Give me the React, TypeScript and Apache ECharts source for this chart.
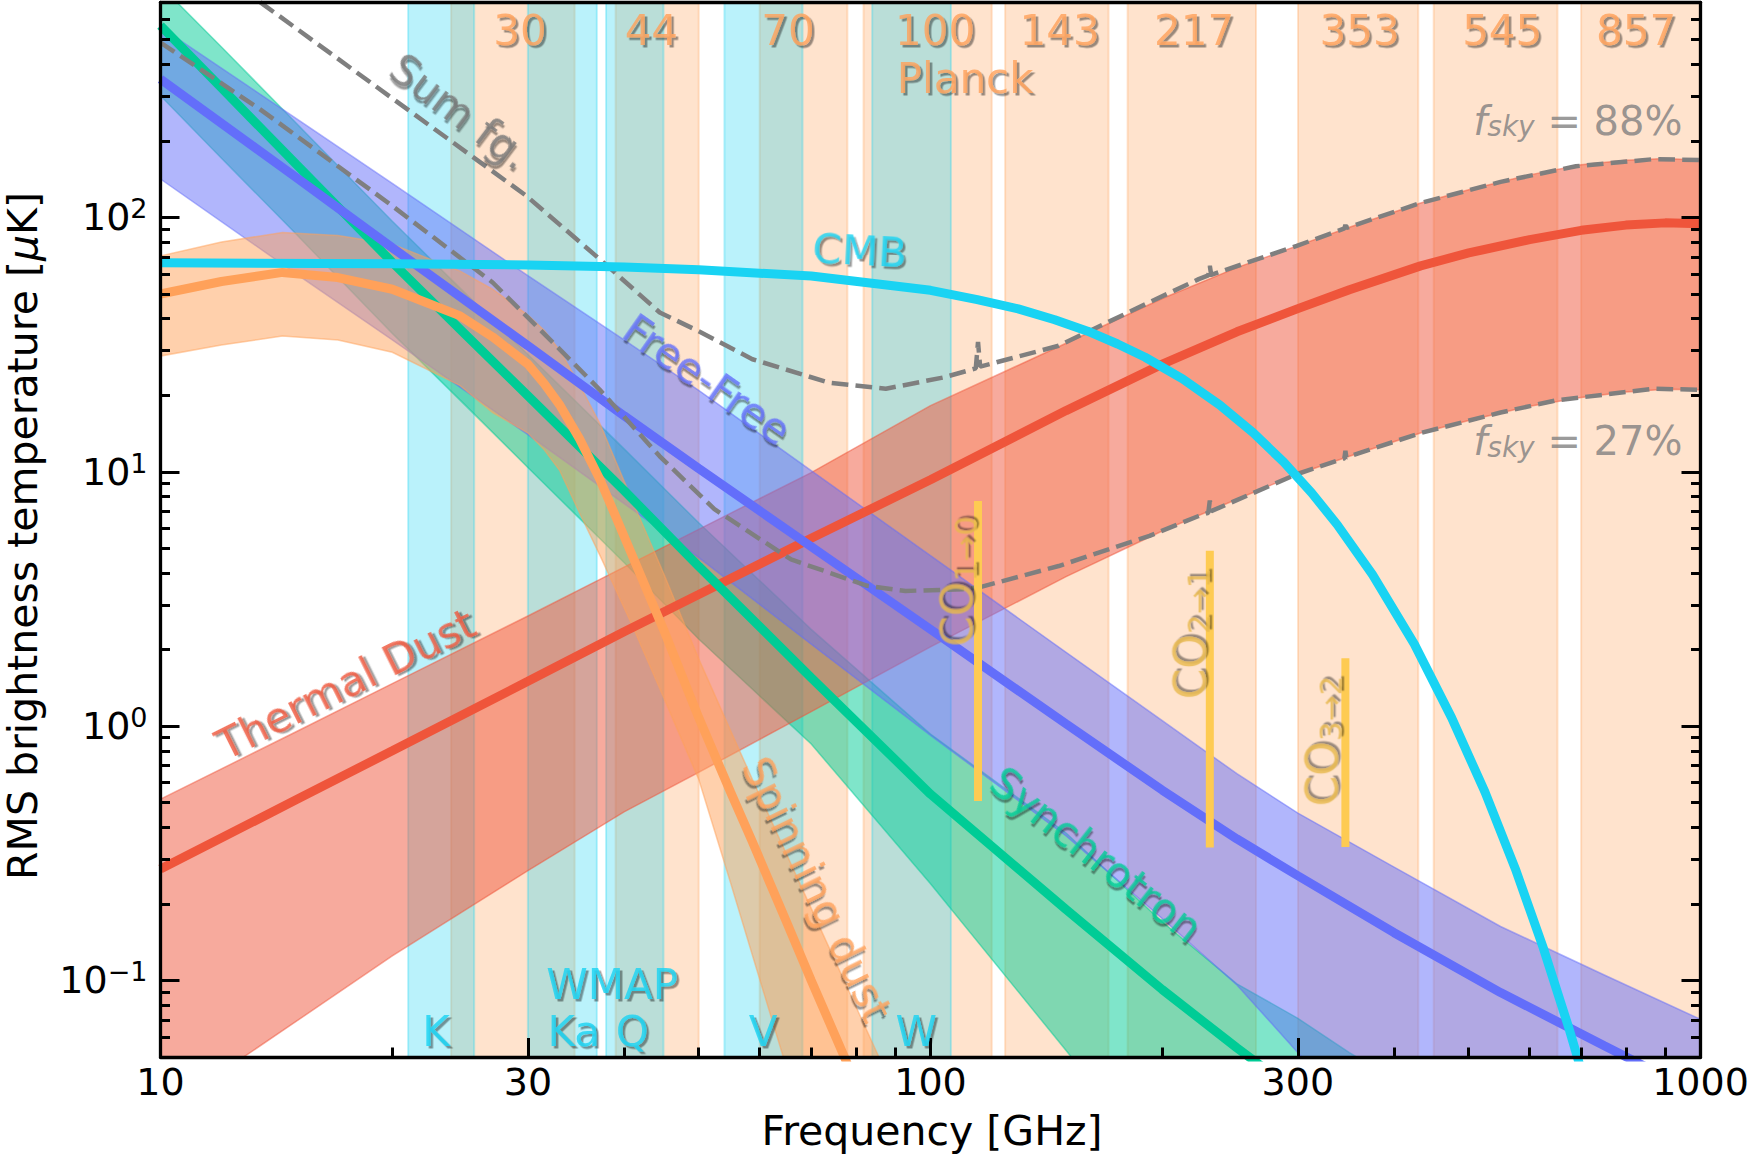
import React, { useEffect, useRef } from "react";
import * as echarts from "echarts";

// ---------------- axes ----------------
const X_MIN = 10;
const X_MAX = 1000;
const Y_MIN = 0.05;
const Y_MAX = 700;
const xMajorTicks = [10, 30, 100, 300, 1000];
const xMinorTicks = [20, 40, 50, 60, 70, 80, 90, 200, 400, 500, 600, 700, 800, 900];
const yMajorTicks = [0.1, 1, 10, 100];
const yMinorTicks = [0.06, 0.07, 0.08, 0.09, 0.2, 0.3, 0.4, 0.5, 0.6, 0.7, 0.8, 0.9, 2, 3, 4, 5, 6, 7, 8, 9, 20, 30, 40, 50, 60, 70, 80, 90, 200, 300, 400, 500, 600];

// ---------------- instrument frequency bands (GHz) ----------------
const planckNames = ["30", "44", "70", "100", "143", "217", "353", "545", "857"];
const planckLow = [23.85, 39.0, 60.0, 81.85, 125, 180.3, 300.1, 450.3, 699.8];
const planckHigh = [34.5, 50.0, 78.0, 120.1, 170.3, 264.7, 430, 652, 1000];
const wmapNames = ["K", "Ka", "Q", "V", "W"];
const wmapLow = [20.97, 30.0, 37.9, 54.0, 84.0];
const wmapHigh = [25.55, 36.87, 45.0, 68.2, 106.3];

// ---------------- components: RMS brightness temperature (uK) ----------------
const syncFreq = [10, 12, 15, 20, 25, 30, 40, 50, 70, 100, 150, 200, 250, 300, 350, 400];
const syncMid = [568, 323, 162, 66.6, 34.2, 19.9, 8.44, 4.25, 1.55, 0.54, 0.19, 0.092, 0.0543, 0.036, 0.0254, 0.019];
const syncHigh = [815, 468, 235, 96.6, 49.6, 28.9, 12.3, 6.3, 2.4, 0.93, 0.38, 0.17, 0.097, 0.071, 0.052, 0.041];
const syncLow = [301, 171, 86, 35, 18, 10.4, 4.4, 2.2, 0.85, 0.24, 0.053, 0.018, 0.0078, 0.0039, 0.0022, 0.0014];

const ffFreq = [10, 15, 20, 30, 40, 50, 70, 100, 150, 200, 250, 300, 400, 550, 750, 1000];
const ffMid = [350, 143.6, 76, 31.3, 16.6, 10.3, 5.08, 2.4, 1.02, 0.56, 0.36, 0.258, 0.154, 0.0896, 0.0554, 0.0355];
const ffHigh = [560, 245, 136, 59, 33, 20.9, 10.1, 4.68, 1.95, 1.05, 0.65, 0.455, 0.279, 0.163, 0.105, 0.0703];
const ffLow = [141.6, 60, 33, 14, 7.5, 4.6, 2.1, 0.92, 0.37, 0.175, 0.096, 0.052, 0.02, 0.008, 0.004, 0.002];

const tdFreq = [10, 15, 20, 30, 40, 50, 70, 100, 150, 200, 250, 300, 350, 433, 500, 600, 700, 800, 900, 1000];
const tdMid = [0.274, 0.513, 0.8, 1.5, 2.35, 3.29, 5.48, 9.3, 17.4, 26.5, 35.5, 43.8, 52, 64.5, 72.5, 81.8, 89, 93.3, 95.2, 94.5];
const tdHigh = [0.516, 0.95, 1.47, 2.71, 4.22, 5.94, 9.93, 18.2, 32, 48, 63.5, 77.5, 91.5, 114, 128.5, 147, 161, 168, 170.5, 168];
const tdLow = [0.03, 0.069, 0.125, 0.27, 0.46, 0.658, 1.14, 2.05, 3.87, 5.85, 7.8, 9.8, 11.5, 14.2, 15.9, 18.1, 19.6, 20.6, 21.1, 21];

const sdFreq = [10, 12, 14.4, 17, 20, 24.5, 27, 30, 31.5, 33, 35, 37.2, 41, 45, 50, 55, 58.7, 65, 70, 77.3, 85.7, 95];
const sdMid = [50, 56, 60.8, 58, 52.2, 41, 33.9, 26.5, 22.2, 18.3, 13.5, 9.35, 4.68, 2.4, 1.08, 0.55, 0.351, 0.17, 0.1, 0.05, 0.024, 0.0116];
const sdHigh = [70.6, 80, 87.3, 85, 78.5, 61.5, 52.2, 41.3, 36, 30, 22, 15.5, 7.7, 4.0, 1.84, 0.96, 0.618, 0.314, 0.192, 0.0993, 0.05, 0.025];
const sdLow = [28.5, 31.5, 34.2, 33, 29.5, 21.8, 17.1, 14.2, 12.2, 10.1, 6.9, 4.7, 2.48, 1.3, 0.618, 0.242, 0.126, 0.0455, 0.022, 0.008, 0.003, 0.001];

const cmbFreq = [10, 20, 30, 40, 50, 70, 100, 115, 130, 145, 160, 175, 190, 212.5, 237.5, 262.5, 287.5, 312.5, 337.5, 375, 425, 475, 525, 575, 625, 675, 725, 775];
const cmbVal = [66.3, 65.8, 65.0, 63.8, 62.3, 58.8, 51.7, 47.5, 43.7, 39.6, 35.7, 31.8, 28.2, 23.2, 18.3, 14.24, 10.92, 8.27, 6.19, 3.94, 2.1, 1.08, 0.55, 0.274, 0.134, 0.0646, 0.0309, 0.0146];

const fg88Freq = [12, 13.58, 20, 29.86, 37.2, 44.5, 50, 58.7, 73.8, 87.5, 104, 114.5, 115.27, 116, 146.7, 192.5, 223, 229.5, 230.54, 231.5, 299, 344.8, 345.8, 346.8, 433, 550, 689, 869, 1000];
const fg88Val = [906, 690, 294, 121.6, 68.5, 42.3, 35.7, 27.7, 22.4, 21.2, 23.5, 25.5, 32.4, 25.9, 31.3, 46.4, 57.2, 59.2, 64.5, 59.5, 77.3, 90.5, 93.5, 90.9, 114, 138, 159, 169.5, 168];
const fg27Freq = [10, 13.45, 20, 27, 33, 37.2, 44.5, 52.4, 65.9, 82.8, 92.8, 110, 114.5, 115.27, 116, 146.7, 192.5, 223, 229.5, 230.54, 231.5, 299, 344.8, 345.8, 346.8, 433, 550, 650, 869, 1000];
const fg27Val = [487, 267, 111, 55.5, 30.3, 21, 11.5, 7.13, 4.52, 3.56, 3.4, 3.45, 3.5, 3.85, 3.52, 4.26, 5.6, 6.7, 6.9, 7.7, 7.0, 9.78, 11.3, 12.1, 11.4, 14.2, 17.1, 19.1, 21.2, 21];

const coFreq = [115.27, 230.54, 345.8];
const coTop = [7.68, 4.89, 1.85];
const coBottom = [0.508, 0.333, 0.335];
const coNames = ["1→0", "2→1", "3→2"];

// ---------------- styling ----------------
const FONT = "DejaVu Sans";
const RGB = { green: "0,204,150", blue: "99,110,250", red: "239,85,59", orange: "255,161,90", cyan: "25,211,243" };
const COL = { green: "#00cc96", blue: "#636efa", red: "#ef553b", orange: "#ffa15a", cyan: "#19d3f3", grey: "#7f7f7f", co: "#fecb52", coText: "#e8b94d", sumText: "#747474" };
const SHADOWED = [COL.orange, COL.cyan, COL.blue, COL.red, COL.green, COL.sumText, COL.coText];

// label anchors (frequency, temperature) and orientation
const planckLabelFreq = [29.3, 43.4, 65.3, 101.4, 147.1, 219.9, 360.9, 552.7, 824.9];
const wmapLabelFreq = [22.8, 34.4, 41.0, 60.6, 95.8];
const coLabelPos = [[108.1, 3.7], [217, 2.3], [322, 0.872]];

type Lab = { text: string; f: number; t: number; rot?: number; color: string; size?: number };
const labels: Lab[] = [
  ...planckNames.map((n, i) => ({ text: n, f: planckLabelFreq[i], t: 543, color: COL.orange })),
  { text: "Planck", f: 110.9, t: 353, color: COL.orange },
  { text: "WMAP", f: 38.6, t: 0.096, color: COL.cyan },
  ...wmapNames.map((n, i) => ({ text: n, f: wmapLabelFreq[i], t: 0.0627, color: COL.cyan })),
  { text: "CMB", f: 80.9, t: 73.9, rot: -3, color: COL.cyan },
  { text: "Free-Free", f: 51.3, t: 23.1, rot: -35, color: COL.blue },
  { text: "Thermal Dust", f: 17.4, t: 1.46, rot: 26.5, color: COL.red },
  { text: "Spinning dust", f: 71.1, t: 0.228, rot: -64, color: COL.orange },
  { text: "Synchrotron", f: 164.3, t: 0.3135, rot: -38, color: COL.green },
  { text: "Sum fg.", f: 24.5, t: 260.6, rot: -37, color: COL.sumText },
  { text: "{i|f}{s|sky}{n| = 88%}", f: 693, t: 239.8, color: COL.grey, size: 40 },
  { text: "{i|f}{s|sky}{n| = 27%}", f: 693, t: 13.2, color: COL.grey, size: 40 },
  ...coNames.map((n, i) => ({ text: "{c|CO}{k|" + n + "}", f: coLabelPos[i][0], t: coLabelPos[i][1], rot: 90, color: COL.coText })),
];

function pairs(xs: number[], ys: number[]) {
  return xs.map((x, i) => [x, ys[i]]);
}

function vBands(low: number[], high: number[], rgb: string, z: number) {
  return {
    type: "custom",
    coordinateSystem: "cartesian2d",
    clip: true,
    silent: true,
    z,
    data: low.map((l, i) => [l, high[i]]),
    encode: { x: 0, y: 1 },
    renderItem: (params: any, api: any) => {
      const a = api.coord([api.value(0), Y_MAX]);
      const b = api.coord([api.value(1), Y_MIN]);
      return {
        type: "rect",
        shape: { x: a[0], y: a[1], width: b[0] - a[0], height: b[1] - a[1] },
        style: { fill: `rgba(${rgb},0.3)`, stroke: `rgba(${rgb},0.3)`, lineWidth: 2 },
      };
    },
  };
}

function fillBand(freq: number[], low: number[], high: number[], rgb: string, z: number) {
  return {
    type: "custom",
    coordinateSystem: "cartesian2d",
    clip: true,
    silent: true,
    z,
    data: [[freq[0], high[0]]],
    renderItem: (params: any, api: any) => {
      const pts: number[][] = [];
      for (let i = 0; i < freq.length; i++) pts.push(api.coord([freq[i], high[i]]));
      for (let i = freq.length - 1; i >= 0; i--) pts.push(api.coord([freq[i], low[i]]));
      return {
        type: "polygon",
        shape: { points: pts },
        style: { fill: `rgba(${rgb},0.5)`, stroke: `rgba(${rgb},0.5)`, lineWidth: 1.5 },
      };
    },
  };
}

function curve(freq: number[], vals: number[], color: string, width: number, z: number, extra: any = {}) {
  return {
    type: "line",
    data: pairs(freq, vals),
    showSymbol: false,
    symbol: "none",
    clip: true,
    silent: true,
    z,
    lineStyle: { color, width, ...extra },
  };
}

function buildOption() {
  const tickStyle = { color: "#000", width: 3 };
  const lineStyle = { color: "#000", width: 3.3 };
  const common = { type: "log", logBase: 10, splitLine: { show: false }, z: 10 };
  const xAx = { ...common, min: X_MIN, max: X_MAX };
  const yAx = { ...common, min: Y_MIN, max: Y_MAX };

  const series: any[] = [
    vBands(planckLow, planckHigh, RGB.orange, 1),
    vBands(wmapLow, wmapHigh, RGB.cyan, 1),
    fillBand(syncFreq, syncLow, syncHigh, RGB.green, 2),
    fillBand(tdFreq, tdLow, tdHigh, RGB.red, 2),
    fillBand(ffFreq, ffLow, ffHigh, RGB.blue, 2),
    fillBand(sdFreq, sdLow, sdHigh, RGB.orange, 2),
    curve(tdFreq, tdMid, COL.red, 9, 3),
    curve(syncFreq, syncMid, COL.green, 9, 3),
    curve(ffFreq, ffMid, COL.blue, 9, 3),
    curve(sdFreq, sdMid, COL.orange, 9, 3),
    curve(fg88Freq, fg88Val, COL.grey, 4.5, 4, { type: [16.7, 7.2] }),
    curve(fg27Freq, fg27Val, COL.grey, 4.5, 4, { type: [16.7, 7.2] }),
    curve(cmbFreq, cmbVal, COL.cyan, 9, 5),
    ...coFreq.map((f, i) => curve([f, f], [coBottom[i], coTop[i]], COL.co, 8, 6)),
    {
      type: "scatter",
      symbolSize: 0,
      silent: true,
      z: 20,
      itemStyle: { color: "transparent" },
      data: labels.map((l) => ({
        value: [l.f, l.t],
        label: {
          show: true,
          position: "inside",
          formatter: l.text,
          rotate: l.rot || 0,
          color: l.color,
          fontSize: l.size || 42,
          fontFamily: FONT,
          align: "center",
          verticalAlign: "middle",
          rich: {
            i: { fontStyle: "italic", fontSize: 40, fontFamily: FONT, color: l.color },
            s: { fontStyle: "italic", fontSize: 28, fontFamily: FONT, color: l.color, verticalAlign: "bottom", lineHeight: 30 },
            n: { fontSize: 40, fontFamily: FONT, color: l.color },
            c: { fontSize: 44, fontFamily: FONT, color: l.color, lineHeight: 48 },
            k: { fontSize: 31, fontFamily: FONT, color: l.color, verticalAlign: "bottom", lineHeight: 32 },
          },
        },
      })),
    },
  ];

  return {
    animation: false,
    backgroundColor: "#ffffff",
    grid: { left: 160.5, top: 2.5, width: 1540, height: 1054.5, containLabel: false },
    xAxis: [
      {
        ...xAx,
        position: "bottom",
        axisLine: { show: true, onZero: false, lineStyle },
        axisTick: { show: true, inside: true, length: 19, lineStyle: tickStyle, customValues: xMajorTicks },
        axisLabel: { show: true, customValues: xMajorTicks, formatter: (v: number) => String(Math.round(v)), color: "#000", fontSize: 38, fontFamily: FONT, margin: 6 },
      },
      {
        ...xAx,
        position: "bottom",
        axisLine: { show: false, onZero: false },
        axisTick: { show: true, inside: true, length: 9.5, lineStyle: tickStyle, customValues: xMinorTicks },
        axisLabel: { show: false },
      },
      {
        ...xAx,
        position: "top",
        axisLine: { show: true, onZero: false, lineStyle },
        axisTick: { show: false },
        axisLabel: { show: false },
      },
    ],
    yAxis: [
      {
        ...yAx,
        position: "left",
        axisLine: { show: true, onZero: false, lineStyle },
        axisTick: { show: true, inside: true, length: 19, lineStyle: tickStyle, customValues: yMajorTicks },
        axisLabel: {
          show: true,
          customValues: yMajorTicks,
          margin: 13,
          formatter: (v: number) => {
            const e = Math.round(Math.log10(v));
            return "{b|10}{s|" + (e < 0 ? "−" + -e : String(e)) + "}";
          },
          rich: {
            b: { fontSize: 38, lineHeight: 44, fontFamily: FONT, color: "#000" },
            s: { fontSize: 27, lineHeight: 20, verticalAlign: "top", fontFamily: FONT, color: "#000" },
          },
        },
      },
      {
        ...yAx,
        position: "left",
        axisLine: { show: false, onZero: false },
        axisTick: { show: true, inside: true, length: 9.5, lineStyle: tickStyle, customValues: yMinorTicks },
        axisLabel: { show: false },
      },
      {
        ...yAx,
        position: "right",
        axisLine: { show: true, onZero: false, lineStyle },
        axisTick: { show: true, inside: true, length: 19, lineStyle: tickStyle, customValues: yMajorTicks },
        axisLabel: { show: false },
      },
      {
        ...yAx,
        position: "right",
        axisLine: { show: false, onZero: false },
        axisTick: { show: true, inside: true, length: 9.5, lineStyle: tickStyle, customValues: yMinorTicks },
        axisLabel: { show: false },
      },
    ],
    graphic: [
      {
        type: "text",
        x: 932,
        y: 1131,
        silent: true,
        style: { text: "Frequency [GHz]", fontSize: 41, fontFamily: FONT, fill: "#000", align: "center", verticalAlign: "middle" },
      },
      {
        type: "text",
        x: 23,
        y: 536,
        rotation: Math.PI / 2,
        silent: true,
        style: {
          text: "RMS brightness temperature [{i|μ}K]",
          fontSize: 41,
          lineHeight: 41,
          fontFamily: FONT,
          fill: "#000",
          align: "center",
          verticalAlign: "middle",
          rich: { i: { fontStyle: "italic", fontSize: 41, lineHeight: 41, fontFamily: FONT, fill: "#000" } },
        },
      },
    ],
    series,
  };
}

const shadowCss =
  SHADOWED.map((c) => `#fg-chart text[fill="${c}" i]`).join(",") + "{filter:url(#lblShadow);}";

export default function App() {
  const ref = useRef<HTMLDivElement>(null);
  useEffect(() => {
    if (!ref.current) return;
    const chart = echarts.init(ref.current, null, { renderer: "svg" });
    chart.setOption(buildOption() as any);
    return () => chart.dispose();
  }, []);
  return (
    <>
      <svg width="0" height="0" style={{ position: "absolute", left: 0, top: 0 }}>
        <defs>
          <filter id="lblShadow" x="-20%" y="-20%" width="150%" height="150%">
            <feDropShadow dx="2.5" dy="2.5" stdDeviation="0" floodColor="#000" floodOpacity="0.5" />
          </filter>
        </defs>
      </svg>
      <style>{shadowCss}</style>
      <div
        id="fg-chart"
        ref={ref}
        style={{ position: "fixed", left: 0, top: 0, width: 1758, height: 1158, background: "#fff" }}
      />
    </>
  );
}
